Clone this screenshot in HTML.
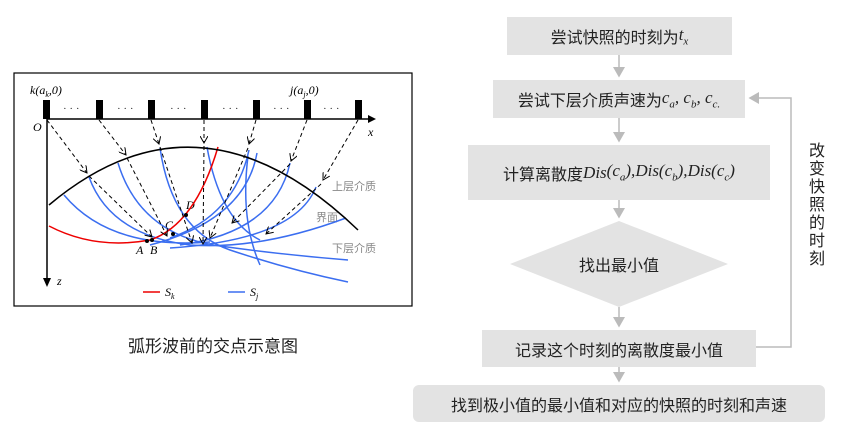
<!DOCTYPE html>
<html><head><meta charset="utf-8"><style>
body{margin:0;width:842px;height:427px;background:#fff;position:relative;overflow:hidden;font-family:"Liberation Sans","Noto Sans CJK SC",sans-serif}
.b{position:absolute;background:#e3e3e3;display:flex;align-items:center;justify-content:center;font-size:16px;color:#222;white-space:nowrap}
i{font-family:"Liberation Serif",serif;font-size:17px}
sub{font-size:11px}
</style></head><body>
<svg width="842" height="427" style="position:absolute;left:0;top:0">
<defs>
<marker id="ah" markerWidth="8" markerHeight="8" refX="7" refY="4" orient="auto"><path d="M0,0 L7,4 L0,8" fill="none" stroke="#000" stroke-width="1"/></marker>
<marker id="ga" markerWidth="8" markerHeight="8" refX="6" refY="4" orient="auto"><path d="M0,0 L7,4 L0,8Z" fill="#bbb"/></marker>
</defs>
<rect x="14" y="73" width="398" height="233" fill="#fff" stroke="#000" stroke-width="1.2"/>
<g fill="#000">
<rect x="43" y="100" width="7" height="19"/><rect x="96" y="100" width="7" height="19"/><rect x="148" y="100" width="7" height="19"/><rect x="201" y="100" width="7" height="19"/><rect x="253" y="100" width="7" height="19"/><rect x="304" y="100" width="7" height="19"/><rect x="355" y="100" width="7" height="19"/>
</g>
<g font-family="Liberation Serif" font-size="11" fill="#333">
<text x="63" y="112">· · ·</text><text x="117" y="112">· · ·</text><text x="170" y="112">· · ·</text><text x="222" y="112">· · ·</text><text x="273" y="112">· · ·</text><text x="323" y="112">· · ·</text>
</g>
<line x1="47" y1="119" x2="372" y2="119" stroke="#000" stroke-width="1.5"/><path d="M368,115 L376,119 L368,123Z"/>
<line x1="47" y1="119" x2="47" y2="282" stroke="#000" stroke-width="1.5"/><path d="M43,278 L47,287 L51,278Z"/>
<g font-family="Liberation Serif" font-style="italic" font-size="12" fill="#000">
<text x="30" y="94">k(a<tspan font-size="8" dy="3">k</tspan><tspan dy="-3">,0)</tspan></text>
<text x="290" y="94">j(a<tspan font-size="8" dy="3">j</tspan><tspan dy="-3">,0)</tspan></text>
<text x="33" y="131">O</text><text x="368" y="136">x</text><text x="57" y="285">z</text>
<text x="136" y="254">A</text><text x="150" y="254">B</text><text x="165" y="229">C</text><text x="186" y="209">D</text>
<text x="165" y="296">S<tspan font-size="8" dy="3">k</tspan></text>
<text x="250" y="296">S<tspan font-size="8" dy="3">j</tspan></text>
</g>
<g font-size="11" fill="#888"><text x="332" y="190">上层介质</text><text x="316" y="221">界面</text><text x="332" y="252">下层介质</text></g>
<g fill="none" stroke="#3b6ef0" stroke-width="1.5">
<path d="M64,195 Q110,250 210,242"/>
<path d="M89,177 Q110,235 190,245 Q260,250 346,218"/>
<path d="M118,163 Q140,235 220,246 Q285,255 348,260"/>
<path d="M160,148 Q172,230 230,250 Q290,270 348,282"/>
<path d="M207,147 Q220,220 260,240"/>
<path d="M249,150 Q235,215 170,238"/>
<path d="M257,153 Q245,220 150,245"/>
<path d="M290,163 Q275,232 180,245"/>
<path d="M316,187 Q295,240 170,248"/>
<path d="M248,156 Q240,220 260,265"/>
</g>
<path d="M49,226 Q95,250 150,240 Q195,225 218,147" fill="none" stroke="#e00" stroke-width="1.5"/>
<path d="M49,205 Q200,78 358,230" fill="none" stroke="#000" stroke-width="1.5"/>
<g stroke="#000" stroke-width="1" stroke-dasharray="4,3" fill="none" marker-end="url(#ah)">
<line x1="47" y1="120" x2="87" y2="173"/><line x1="89" y1="176" x2="152" y2="237"/>
<line x1="99" y1="120" x2="126" y2="155"/><line x1="127" y1="158" x2="167" y2="236"/>
<line x1="151" y1="120" x2="159" y2="144"/><line x1="160" y1="147" x2="192" y2="243"/>
<line x1="204" y1="120" x2="204" y2="143"/><line x1="204" y1="146" x2="203" y2="244"/>
<line x1="256" y1="120" x2="249" y2="144"/><line x1="248" y1="148" x2="210" y2="238"/>
<line x1="307" y1="120" x2="291" y2="161"/><line x1="290" y1="164" x2="232" y2="223"/>
<line x1="358" y1="120" x2="323" y2="180"/><line x1="321" y1="184" x2="266" y2="234"/>
</g>
<g fill="#000"><circle cx="186" cy="215" r="2"/><circle cx="147" cy="241" r="2"/><circle cx="152" cy="240" r="2"/><circle cx="173" cy="234" r="2"/></g>
<line x1="143" y1="292" x2="160" y2="292" stroke="#e00" stroke-width="1.5"/>
<line x1="228" y1="292" x2="245" y2="292" stroke="#3b6ef0" stroke-width="1.5"/>
<polygon points="619,221 728,264 619,307 510,264" fill="#e3e3e3"/>
<g stroke="#bbb" stroke-width="1.5" fill="none">
<line x1="619" y1="55" x2="619" y2="76" marker-end="url(#ga)"/>
<line x1="619" y1="118" x2="619" y2="141" marker-end="url(#ga)"/>
<line x1="619" y1="200" x2="619" y2="217" marker-end="url(#ga)"/>
<line x1="619" y1="307" x2="619" y2="326" marker-end="url(#ga)"/>
<line x1="619" y1="367" x2="619" y2="381" marker-end="url(#ga)"/>
<polyline points="756,347 791,347 791,98 750,98" marker-end="url(#ga)"/>
</g>
</svg>
<div class="b" style="left:507px;top:17px;width:225px;height:38px">尝试快照的时刻为<i>t<sub>x</sub></i></div>
<div class="b" style="left:493px;top:80px;width:252px;height:38px">尝试下层介质声速为<i>c<sub>a</sub>, c<sub>b</sub>, c<sub>c.</sub></i></div>
<div class="b" style="left:468px;top:145px;width:302px;height:55px">计算离散度<i>Dis</i><i>(c<sub>a</sub>), </i><i>Dis(c<sub>b</sub>), </i><i>Dis(c<sub>c</sub>)</i></div>
<div class="b" style="left:510px;top:250px;width:218px;height:28px;background:none">找出最小值</div>
<div class="b" style="left:482px;top:330px;width:274px;height:37px">记录这个时刻的离散度最小值</div>
<div class="b" style="left:413px;top:385px;width:412px;height:37px;border-radius:6px">找到极小值的最小值和对应的快照的时刻和声速</div>
<div style="position:absolute;left:809px;top:143px;width:18px;font-size:16px;line-height:18px;color:#222">改变快照的时刻</div>
<div style="position:absolute;left:14px;top:332px;width:398px;text-align:center;font-size:17px;color:#222">弧形波前的交点示意图</div>
</body></html>
